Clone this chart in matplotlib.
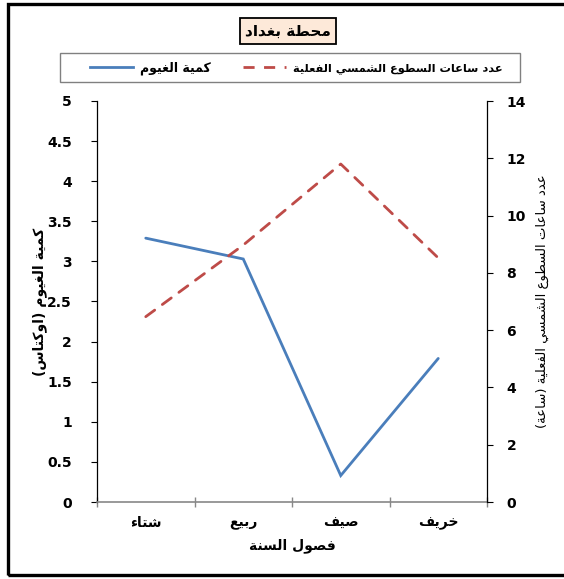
import numpy as np
import matplotlib
matplotlib.use("Agg")
import matplotlib.pyplot as plt
from matplotlib.patches import Rectangle
from matplotlib.lines import Line2D

# seasonal averages for Baghdad station
seasons = ['شتاء', 'ربيع', 'صيف', 'خريف']
cloud_cover = [3.29, 3.03, 0.33, 1.79]      # oktas
sunshine_hours = [6.47, 8.97, 11.80, 8.52]  # hours

station = 'محطة بغداد'
cloud_label = 'كمية الغيوم'
sun_label = 'عدد ساعات السطوع الشمسي الفعلية'
cloud_axis_label = 'كمية الغيوم (اوكتاس)'
sun_axis_label = 'عدد ساعات السطوع الشمسي الفعلية (ساعة)'
season_axis_label = 'فصول السنة'

# first codepoint of each letter's presentation forms and how many forms it has
# 1 = no joining, 2 = joins to the previous letter only, 4 = joins both ways
FORMS = {
    'ء': (0xFE80, 1), 'ا': (0xFE8D, 2), 'ب': (0xFE8F, 4), 'ة': (0xFE93, 2),
    'ت': (0xFE95, 4), 'ح': (0xFEA1, 4), 'خ': (0xFEA5, 4), 'د': (0xFEA9, 2),
    'ر': (0xFEAD, 2), 'س': (0xFEB1, 4), 'ش': (0xFEB5, 4), 'ص': (0xFEB9, 4),
    'ط': (0xFEC1, 4), 'ع': (0xFEC9, 4), 'غ': (0xFECD, 4), 'ف': (0xFED1, 4),
    'ك': (0xFED9, 4), 'ل': (0xFEDD, 4), 'م': (0xFEE1, 4), 'ن': (0xFEE5, 4),
    'و': (0xFEED, 2), 'ي': (0xFEF1, 4),
}
MIRROR = {'(': ')', ')': '('}


def shape(text):
    # matplotlib has no arabic shaping, so pick the joined glyph forms
    # ourselves and lay the string out right to left
    out = []
    for i, ch in enumerate(text):
        if ch not in FORMS:
            out.append(MIRROR.get(ch, ch))
            continue
        base, n = FORMS[ch]
        prev = text[i - 1] if i > 0 else ''
        nxt = text[i + 1] if i + 1 < len(text) else ''
        join_prev = prev in FORMS and FORMS[prev][1] == 4
        join_next = n == 4 and nxt in FORMS and FORMS[nxt][1] > 1
        if n == 1:
            form = 0
        elif join_prev and join_next:
            form = 3
        elif join_prev:
            form = 1
        elif join_next:
            form = 2
        else:
            form = 0
        out.append(chr(base + form))
    return ''.join(reversed(out))


plt.rcParams['font.family'] = ['DejaVu Sans']
plt.rcParams['font.weight'] = 'bold'
plt.rcParams['axes.labelweight'] = 'bold'

blue = '#4A7EBB'
red = '#BE4B48'
dashes = (0, (4.0, 3.4))

fig = plt.figure(figsize=(5.64, 5.79), dpi=100)
ax = fig.add_axes([97 / 564, 77 / 579, 390 / 564, 401 / 579])
ax2 = ax.twinx()

x = np.arange(len(seasons))
ax.plot(x, cloud_cover, color=blue, lw=2.0, solid_capstyle='round',
        solid_joinstyle='miter', zorder=3)
ax2.plot(x, sunshine_hours, color=red, lw=2.0, dash_capstyle='round',
         linestyle=dashes, zorder=3)

ax.set_xlim(-0.5, len(seasons) - 0.5)
ax.set_ylim(0, 5)
ax.set_yticks(np.arange(0, 5.01, 0.5))
ax.set_yticklabels(['0', '0.5', '1', '1.5', '2', '2.5', '3', '3.5', '4', '4.5', '5'])
ax2.set_ylim(0, 14)
ax2.set_yticks(np.arange(0, 15, 2))

# season names sit between the category tick marks
ax.set_xticks(np.arange(-0.5, len(seasons)), labels=[])
ax.set_xticks(x, labels=[shape(s) for s in seasons], minor=True)
ax.tick_params(axis='x', which='minor', length=0, pad=10, labelsize=10)
ax.tick_params(axis='x', which='major', direction='inout', length=7,
               color='#888888', width=1)
ax.tick_params(axis='y', direction='out', length=4, width=0.8, labelsize=10, pad=14)
ax2.tick_params(axis='y', direction='out', length=4, width=0.8, labelsize=10, pad=10)

for a in (ax, ax2):
    a.spines['top'].set_visible(False)
ax.spines['right'].set_visible(False)
ax2.spines['left'].set_visible(False)
ax2.spines['bottom'].set_visible(False)
ax.spines['bottom'].set_color('#888888')
ax.spines['bottom'].set_linewidth(1.2)
ax.spines['left'].set_linewidth(0.9)
ax2.spines['right'].set_linewidth(0.9)

ax.set_xlabel(shape(season_axis_label), fontsize=10, labelpad=6)
ax.set_ylabel(shape(cloud_axis_label), fontsize=10, labelpad=0)
ax2.set_ylabel(shape(sun_axis_label), fontsize=9.5, rotation=90, va='top',
               labelpad=7, fontweight='normal')

# legend across the top, framed separately so the entries can sit off-centre
handles = [Line2D([], [], color=blue, lw=2.0),
           Line2D([], [], color=red, lw=2.0, linestyle=dashes)]
leg = fig.legend(handles, [shape(cloud_label), shape(sun_label)], ncol=2,
                 loc='center left', bbox_to_anchor=(90 / 564, 1 - 68 / 579),
                 borderaxespad=0, borderpad=0, fontsize=9, handlelength=3.4,
                 handletextpad=0.6, columnspacing=2.6, frameon=False)
leg.get_texts()[1].set_fontsize(8.2)
fig.patches.append(Rectangle((60 / 564, 1 - 82 / 579), 460 / 564, 29 / 579,
                             transform=fig.transFigure, fill=False,
                             ec='#808080', lw=1.0))

fig.text(288 / 564, 1 - 31 / 579, shape(station), ha='center', va='center',
         fontsize=11, bbox=dict(boxstyle='square,pad=0.35', fc='#FDE9D9',
                                ec='black', lw=1.3))

# outer frame, open on the right
fig.patches.append(Rectangle((8 / 564, 4 / 579), 1.0, 571 / 579,
                             transform=fig.transFigure, fill=False,
                             ec='black', lw=2.4))

fig.savefig('out.png', dpi=100)
